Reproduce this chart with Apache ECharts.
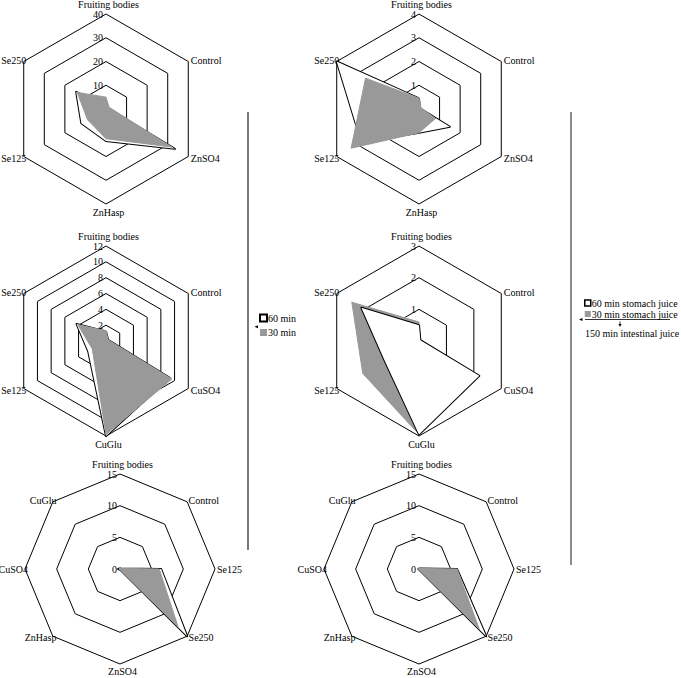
<!DOCTYPE html>
<html>
<head>
<meta charset="utf-8">
<title>Radar charts</title>
<script src="https://cdn.jsdelivr.net/npm/echarts@6/dist/echarts.min.js"></script>
<style>
    html, body { margin: 0; padding: 0; background: #fff; }
    #main { width: 681px; height: 678px; }
</style>
</head>
<body>
<div id="main"></div>
<script>
// axis names, clockwise from the top
const znAxes = ['Fruiting bodies', 'Control', 'ZnSO4', 'ZnHasp', 'Se125', 'Se250']
const cuAxes = ['Fruiting bodies', 'Control', 'CuSO4', 'CuGlu', 'Se125', 'Se250']
const seAxes = ['Fruiting bodies', 'Control', 'Se125', 'Se250', 'ZnSO4', 'ZnHasp', 'CuSO4', 'CuGlu']

const leftNames = ['60 min', '30 min']
const rightNames = ['60 min stomach juice', '30 min stomach juice']
const extraLegend = '150 min intestinal juice'

// axis max and number of rings
const axisMax = [40, 4, 12, 3, 15, 15]
const rings = [4, 4, 6, 3, 3, 3]

// Zn, 60 / 30 min
const zn60 = [0.8, 0.8, 33.5, 13.5, 12, 14.5]
const zn30 = [5, 1.5, 32, 12.5, 9, 14]
// Zn, stomach juice
const znSt60 = [0.45, 0.05, 1.5, 1.0, 2.8, 4]
const znSt30 = [0.45, 0.1, 0.8, 1.0, 3.3, 2.6]
// Cu, 60 / 30 min
const cu60 = [1.2, 0.3, 9.3, 12, 2.6, 4.3]
const cu30 = [1.3, 0.3, 9.6, 11.8, 2.0, 4.1]
// Cu, stomach juice
const cuSt60 = [0.5, 0.05, 2.2, 2.95, 1.25, 2.1]
const cuSt30 = [0.6, 0.05, 2.2, 2.95, 2.05, 2.45]
// Se, 60 / 30 min
const se60 = [0.2, 0.1, 6.5, 15, 0.1, 0.1, 0.3, 0.1]
const se30 = [0.2, 0.1, 6.2, 13, 0.1, 0.1, 0.1, 0.1]
// Se, stomach juice
const seSt60 = [0.1, 0.1, 6, 15, 0.1, 0.1, 0.1, 0.1]
const seSt30 = [0.1, 0.1, 6, 13.5, 0.1, 0.1, 0.1, 0.1]

const FONT = 'Liberation Serif'
const GRAY = '#999999'

const panels = [
    { axes: znAxes, a: zn60, b: zn30, names: leftNames, center: [106, 109], r: 95 },
    { axes: znAxes, a: znSt60, b: znSt30, names: rightNames, center: [419, 109], r: 95 },
    { axes: cuAxes, a: cu60, b: cu30, names: leftNames, center: [106, 341], r: 95 },
    { axes: cuAxes, a: cuSt60, b: cuSt30, names: rightNames, center: [419, 341], r: 95, blackOnTop: true },
    { axes: seAxes, a: se60, b: se30, names: leftNames, center: [120, 569], r: 95 },
    { axes: seAxes, a: seSt60, b: seSt30, names: rightNames, center: [419, 569], r: 95 }
]

// echarts lays the indicators out counter-clockwise, so flip all but the first
const ccw = (arr) => [arr[0]].concat(arr.slice(1).reverse())

const radars = panels.map((p, i) => ({
    center: p.center,
    radius: p.r,
    startAngle: 90,
    shape: 'polygon',
    splitNumber: rings[i],
    nameGap: i >= 4 ? 2 : 3,
    indicator: ccw(p.axes).map((name, k) => ({
        name: name,
        min: 0,
        max: axisMax[i],
        axisLabel: { show: k === 0 }
    })),
    // negative right padding nudges the left-hand names onto the vertex like the original
    axisName: { color: '#000', fontFamily: FONT, fontSize: 10, padding: [0, -5, 0, 0] },
    axisLine: { show: false },
    axisTick: { show: false },
    axisLabel: { show: false, color: '#000', fontFamily: FONT, fontSize: 10, margin: 3 },
    splitLine: { lineStyle: { color: '#000', width: 1 } },
    splitArea: { show: false }
}))

const series = panels.map((p, i) => {
    const black = {
        name: p.names[0],
        value: ccw(p.a),
        lineStyle: { color: '#000', width: 2 },
        areaStyle: { color: '#fff', opacity: 1 },
        itemStyle: { color: '#000' }
    }
    const gray = {
        name: p.names[1],
        value: ccw(p.b),
        lineStyle: { color: GRAY, width: 1 },
        areaStyle: { color: GRAY, opacity: 1 },
        itemStyle: { color: GRAY }
    }
    return {
        type: 'radar',
        radarIndex: i,
        symbol: 'none',
        silent: true,
        data: p.blackOnTop ? [gray, black] : [black, gray]
    }
})

const legendText = { fontFamily: FONT, fontSize: 10, color: '#000', lineHeight: 10, padding: [0, 0, 0, -4] }

const chart = echarts.init(document.getElementById('main'), null, { renderer: 'svg' })
chart.setOption({
    animation: false,
    backgroundColor: '#fff',
    radar: radars,
    series: series,
    legend: [
        {
            left: 259, top: 313, padding: 0, orient: 'vertical', selectedMode: false,
            itemWidth: 7, itemHeight: 7, itemGap: 4.5,
            textStyle: legendText,
            data: [
                { name: leftNames[0], icon: 'rect', itemStyle: { color: '#fff', borderColor: '#000', borderWidth: 2 } },
                { name: leftNames[1], icon: 'rect', itemStyle: { color: GRAY, borderWidth: 0 } }
            ]
        },
        {
            left: 584, top: 298, padding: 0, orient: 'vertical', selectedMode: false,
            itemWidth: 6, itemHeight: 6, itemGap: 1,
            textStyle: legendText,
            data: [
                { name: rightNames[0], icon: 'rect', itemStyle: { color: '#fff', borderColor: '#000', borderWidth: 1.5 } },
                { name: rightNames[1], icon: 'rect', itemStyle: { color: GRAY, borderWidth: 0 } }
            ]
        }
    ],
    graphic: [
        { type: 'line', shape: { x1: 248, y1: 112, x2: 248, y2: 550 }, style: { stroke: '#222', lineWidth: 1.2 } },
        { type: 'line', shape: { x1: 571, y1: 112, x2: 571, y2: 565 }, style: { stroke: '#666', lineWidth: 1.5 } },
        // little arrow next to the left legend
        { type: 'polygon', shape: { points: [[254.5, 326.7], [258, 325.2], [258, 328.2]] }, style: { fill: '#000' } },
        // right legend: rule, arrows and third label
        { type: 'line', shape: { x1: 585, y1: 319.5, x2: 670, y2: 319.5 }, style: { stroke: '#000', lineWidth: 0.8 } },
        { type: 'polygon', shape: { points: [[579, 319.5], [582.5, 318], [582.5, 321]] }, style: { fill: '#000' } },
        { type: 'line', shape: { x1: 620, y1: 321.5, x2: 620, y2: 324 }, style: { stroke: '#000', lineWidth: 0.8 } },
        { type: 'polygon', shape: { points: [[618.5, 324], [621.5, 324], [620, 327]] }, style: { fill: '#000' } },
        {
            type: 'text', left: 585, top: 328,
            style: { text: extraLegend, font: '10px Liberation Serif', fill: '#000' }
        }
    ]
})
</script>
</body>
</html>
